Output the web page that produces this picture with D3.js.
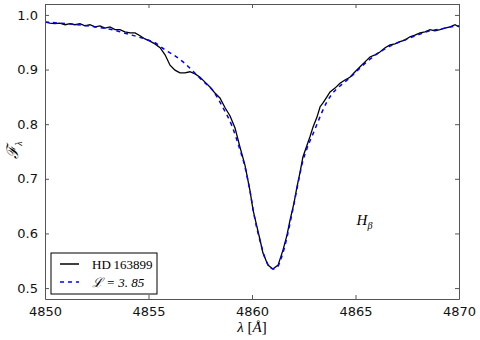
<!DOCTYPE html>
<html lang="en">
  <head>
    <meta charset="UTF-8" />
    <title>H-beta profile</title>
    <script src="https://d3js.org/d3.v7.min.js"></script>
    <style>
      html,
      body {
        margin: 0;
        padding: 0;
        background-color: white;
      }
      .tick text {
        font-family: "DejaVu Sans", sans-serif;
        font-size: 13px;
        fill: #111;
      }
      .math {
        font-family: "Liberation Serif", "DejaVu Serif", serif;
      }
    </style>
  </head>
  <body>
    <svg id="chart"></svg>
    <script>
      // observed spectrum (wavelength in Angstrom, normalised flux)
      const obsWave = [
        4850.0, 4850.24, 4850.48, 4850.72, 4850.97, 4851.21, 4851.45, 4851.69,
        4851.93, 4852.17, 4852.42, 4852.66, 4852.9, 4853.14, 4853.38, 4853.62,
        4853.86, 4854.11, 4854.35, 4854.59, 4854.83, 4855.07, 4855.31, 4855.56,
        4855.8, 4856.04, 4856.28, 4856.52, 4856.76, 4857.0, 4857.25, 4857.49,
        4857.73, 4857.97, 4858.21, 4858.45, 4858.7, 4858.94, 4859.18, 4859.42,
        4859.66, 4859.9, 4860.05, 4860.24, 4860.39, 4860.53, 4860.77, 4861.01,
        4861.26, 4861.5, 4861.69, 4861.84, 4862.03, 4862.17, 4862.32, 4862.46,
        4862.66, 4862.8, 4862.95, 4863.14, 4863.29, 4863.43, 4863.62, 4863.77,
        4864.01, 4864.25, 4864.49, 4864.73, 4864.98, 4865.22, 4865.46, 4865.7,
        4865.94, 4866.18, 4866.43, 4866.67, 4866.91, 4867.15, 4867.39, 4867.63,
        4867.87, 4868.12, 4868.36, 4868.6, 4868.84, 4869.08, 4869.32, 4869.57,
        4869.81, 4870.0
      ];
      const obsFlux = [
        0.987, 0.985, 0.984, 0.985, 0.982, 0.984, 0.982, 0.984, 0.98, 0.982,
        0.978, 0.98, 0.976, 0.978, 0.973, 0.973, 0.969, 0.967, 0.967, 0.962,
        0.956, 0.952, 0.947, 0.94, 0.927, 0.908, 0.899, 0.894, 0.894, 0.896,
        0.892, 0.886, 0.877, 0.868, 0.857, 0.848, 0.83, 0.815, 0.793, 0.758,
        0.725, 0.679, 0.643, 0.612, 0.588, 0.564, 0.542, 0.535, 0.542, 0.57,
        0.597, 0.625, 0.656, 0.685, 0.712, 0.74, 0.762, 0.777, 0.795, 0.813,
        0.832, 0.839, 0.85, 0.859, 0.866, 0.875, 0.881, 0.886, 0.896, 0.905,
        0.914, 0.923, 0.927, 0.932, 0.94, 0.945, 0.947, 0.951, 0.954, 0.96,
        0.963, 0.967, 0.969, 0.973, 0.971, 0.973, 0.976, 0.978, 0.982, 0.978
      ];

      // model profile
      const modWave = [
        4850.0, 4850.72, 4851.59, 4852.42, 4853.24, 4854.01, 4854.83, 4855.31,
        4855.8, 4856.28, 4856.67, 4857.15, 4857.63, 4858.12, 4858.6, 4859.03,
        4859.42, 4859.66, 4859.9, 4860.14, 4860.39, 4860.63, 4860.87, 4861.01,
        4861.21, 4861.45, 4861.69, 4861.93, 4862.17, 4862.42, 4862.66, 4862.9,
        4863.14, 4863.38, 4863.62, 4863.86, 4864.25, 4864.73, 4865.22, 4865.7,
        4866.18, 4866.67, 4867.15, 4867.63, 4868.12, 4868.6, 4869.08, 4869.57,
        4870.0
      ];
      const modFlux = [
        0.987, 0.985, 0.982, 0.978, 0.973, 0.965, 0.956, 0.949, 0.936, 0.925,
        0.914, 0.897, 0.879, 0.861, 0.83, 0.797, 0.753, 0.722, 0.678, 0.626,
        0.586, 0.555, 0.538, 0.535, 0.538, 0.559, 0.593, 0.636, 0.681, 0.727,
        0.756, 0.778, 0.8, 0.822, 0.841, 0.855, 0.87, 0.885, 0.903, 0.919,
        0.932, 0.943, 0.951, 0.958, 0.965, 0.971, 0.974, 0.978, 0.98
      ];

      const xTicks = [4850, 4855, 4860, 4865, 4870];
      const yTicks = [0.5, 0.6, 0.7, 0.8, 0.9, 1.0];
      const legendLabels = ["HD\u2009163899", "\u2112 = 3. 85"];

      const W = 480;
      const H = 340;
      const margin = { top: 4, right: 21, bottom: 41, left: 45 };
      const width = W - margin.left - margin.right;
      const height = H - margin.top - margin.bottom;

      const svg = d3.select("#chart").attr("width", W).attr("height", H);
      const g = svg
        .append("g")
        .attr("transform", `translate(${margin.left},${margin.top})`);

      const x = d3.scaleLinear().domain([4850, 4870]).range([0, width]);
      const y = d3.scaleLinear().domain([0.48, 1.02]).range([height, 0]);

      // clip lines to the axes box
      svg
        .append("clipPath")
        .attr("id", "clip")
        .append("rect")
        .attr("width", width)
        .attr("height", height);

      const line = d3
        .line()
        .x((d) => x(d[0]))
        .y((d) => y(d[1]))
        .curve(d3.curveMonotoneX);

      const obs = obsWave.map((w, i) => [w, obsFlux[i]]);
      const mod = modWave.map((w, i) => [w, modFlux[i]]);

      g.append("path")
        .datum(obs)
        .attr("clip-path", "url(#clip)")
        .attr("fill", "none")
        .attr("stroke", "black")
        .attr("stroke-width", 1.3)
        .attr("d", line.curve(d3.curveLinear));

      g.append("path")
        .datum(mod)
        .attr("clip-path", "url(#clip)")
        .attr("fill", "none")
        .attr("stroke", "#0000ff")
        .attr("stroke-width", 1.5)
        .attr("stroke-dasharray", "4,4")
        .attr("d", line.curve(d3.curveMonotoneX));

      // axes, ticks pointing inward on all sides
      const tickLen = 4;
      const axes = [
        { axis: d3.axisBottom(x), t: `translate(0,${height})`, lab: true },
        { axis: d3.axisTop(x), t: "translate(0,0)", lab: false },
        { axis: d3.axisLeft(y), t: "translate(0,0)", lab: true },
        { axis: d3.axisRight(y), t: `translate(${width},0)`, lab: false },
      ];
      axes.forEach((a, i) => {
        const isX = i < 2;
        a.axis
          .tickValues(isX ? xTicks : yTicks)
          .tickSizeInner(-tickLen)
          .tickSizeOuter(0)
          .tickPadding(isX ? 8 : 7)
          .tickFormat(a.lab ? (isX ? d3.format("d") : d3.format(".1f")) : "");
        const ag = g.append("g").attr("transform", a.t).call(a.axis);
        ag.select(".domain").attr("stroke", "#555");
        ag.selectAll(".tick line").attr("stroke", "#555");
      });

      // axis labels
      svg
        .append("text")
        .attr("class", "math")
        .attr("x", margin.left + width / 2)
        .attr("y", 332)
        .attr("text-anchor", "middle")
        .attr("font-size", "15px")
        .html('<tspan font-style="italic">λ</tspan> [<tspan font-style="italic">Å</tspan>]');

      svg
        .append("text")
        .attr("class", "math")
        .attr("transform", "translate(18,150) rotate(-90)")
        .attr("text-anchor", "middle")
        .attr("font-size", "16px")
        .html('<tspan font-style="italic">ℱ</tspan><tspan font-size="10px" dy="4" font-style="italic">λ</tspan>');

      // H beta annotation
      g.append("text")
        .attr("class", "math")
        .attr("x", x(4865.05))
        .attr("y", y(0.615))
        .attr("font-size", "15px")
        .attr("font-style", "italic")
        .html('H<tspan font-size="10px" dy="4">β</tspan>');

      // legend
      const leg = svg.append("g").attr("transform", "translate(51,253)");
      leg
        .append("rect")
        .attr("width", 106)
        .attr("height", 41)
        .attr("fill", "white")
        .attr("stroke", "black");
      const styles = [
        { color: "black", dash: null },
        { color: "#0000ff", dash: "4,4" },
      ];
      legendLabels.forEach((lab, i) => {
        const yy = 11 + i * 18;
        leg
          .append("line")
          .attr("x1", 9)
          .attr("x2", 28)
          .attr("y1", yy)
          .attr("y2", yy)
          .attr("stroke", styles[i].color)
          .attr("stroke-width", 1.5)
          .attr("stroke-dasharray", styles[i].dash);
        leg
          .append("text")
          .attr("class", "math")
          .attr("x", 41)
          .attr("y", yy + 4.5)
          .attr("font-size", "13px")
          .attr("font-style", i === 1 ? "italic" : "normal")
          .text(lab);
      });
    </script>
  </body>
</html>
